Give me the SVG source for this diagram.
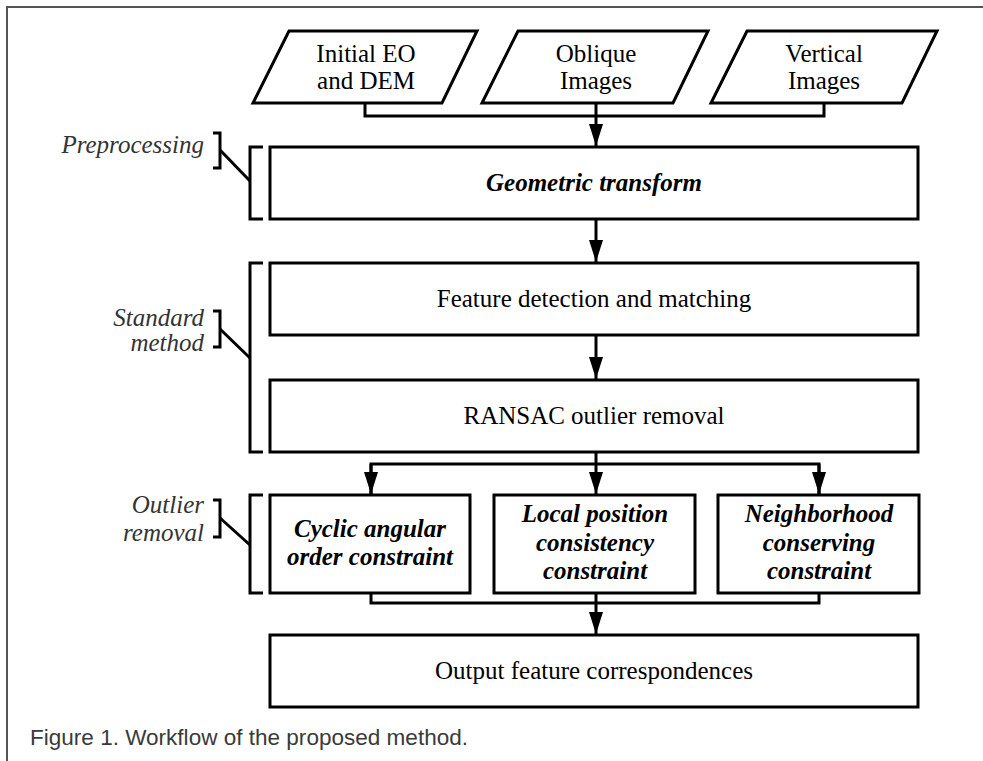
<svg xmlns="http://www.w3.org/2000/svg" width="983" height="761" viewBox="0 0 983 761">
<defs>
<style>
.frame{fill:none;stroke:#555;stroke-width:2}
.box{fill:#fff;stroke:#000;stroke-width:3}
.ln{fill:none;stroke:#000;stroke-width:3}
.br{fill:none;stroke:#000;stroke-width:3;stroke-linejoin:miter}
.t{font-family:"Liberation Serif","Times New Roman",serif;font-size:25px;fill:#000;text-anchor:middle}
.bi{font-family:"Liberation Serif","Times New Roman",serif;font-size:25px;font-weight:bold;font-style:italic;fill:#000;text-anchor:middle}
.lab{font-family:"Liberation Serif","Times New Roman",serif;font-size:25px;font-style:italic;fill:#333;text-anchor:end}
.cap{font-family:"Liberation Sans",Arial,sans-serif;font-size:21.5px;fill:#3a3a3a}
</style>
<marker id="ah" markerWidth="22" markerHeight="14" refX="22" refY="7" orient="auto" markerUnits="userSpaceOnUse" viewBox="0 0 22 14">
<path d="M0,0 L22,7 L0,14 Z" fill="#000"/>
</marker>
</defs>
<rect width="983" height="761" fill="#fff"/>
<path class="frame" d="M7,761 V7 H983"/>

<g id="connectors">
<path class="ln" d="M365,103 V116 H824 V103"/>
<path class="ln" d="M596,103 V146" marker-end="url(#ah)"/>
<path class="ln" d="M596,219 V262" marker-end="url(#ah)"/>
<path class="ln" d="M596,335 V379" marker-end="url(#ah)"/>
<path class="ln" d="M596,452 V494" marker-end="url(#ah)"/>
<path class="ln" d="M371,494 V464 H819 V494"/>
<path class="ln" d="M371,464 V494" marker-end="url(#ah)"/>
<path class="ln" d="M819,464 V494" marker-end="url(#ah)"/>
<path class="ln" d="M371,593 V603 H819 V593"/>
<path class="ln" d="M596,593 V634" marker-end="url(#ah)"/>
</g>

<g id="input-eo-dem">
<polygon class="box" points="289,31 477,31 442,103 253,103"/>
<text class="t" x="366" y="62">Initial EO</text>
<text class="t" x="366" y="89">and DEM</text>
</g>
<g id="input-oblique">
<polygon class="box" points="518,31 708,31 673,103 482,103"/>
<text class="t" x="596" y="62">Oblique</text>
<text class="t" x="596" y="89">Images</text>
</g>
<g id="input-vertical">
<polygon class="box" points="747,31 937,31 902,103 711,103"/>
<text class="t" x="824" y="62">Vertical</text>
<text class="t" x="824" y="89">Images</text>
</g>

<g id="geometric-transform">
<rect class="box" x="270" y="147" width="648" height="72"/>
<text class="bi" x="594" y="191">Geometric transform</text>
</g>
<g id="feature-detection">
<rect class="box" x="270" y="263" width="648" height="72"/>
<text class="t" x="594" y="307">Feature detection and matching</text>
</g>
<g id="ransac">
<rect class="box" x="270" y="380" width="648" height="72"/>
<text class="t" x="594" y="424">RANSAC outlier removal</text>
</g>
<g id="cyclic">
<rect class="box" x="270" y="495" width="200" height="98"/>
<text class="bi" x="370" y="537">Cyclic angular</text>
<text class="bi" x="370" y="565">order constraint</text>
</g>
<g id="local-position">
<rect class="box" x="494" y="495" width="201" height="98"/>
<text class="bi" x="595" y="522">Local position</text>
<text class="bi" x="595" y="551">consistency</text>
<text class="bi" x="595" y="579">constraint</text>
</g>
<g id="neighborhood">
<rect class="box" x="718" y="495" width="201" height="98"/>
<text class="bi" x="819" y="522">Neighborhood</text>
<text class="bi" x="819" y="551">conserving</text>
<text class="bi" x="819" y="579">constraint</text>
</g>
<g id="output">
<rect class="box" x="270" y="635" width="648" height="72"/>
<text class="t" x="594" y="679">Output feature correspondences</text>
</g>

<g id="label-preprocessing">
<text class="lab" x="204" y="153">Preprocessing</text>
<path class="br" d="M213,133 H220 V168 H213"/>
<path class="ln" d="M220,150 L250,181"/>
<path class="br" d="M263,147 H250 V219 H263"/>
</g>
<g id="label-standard">
<text class="lab" x="204" y="326">Standard</text>
<text class="lab" x="204" y="351">method</text>
<path class="br" d="M213,311 H220 V347 H213"/>
<path class="ln" d="M220,329 L250,358"/>
<path class="br" d="M263,263 H250 V452 H263"/>
</g>
<g id="label-outlier">
<text class="lab" x="204" y="513">Outlier</text>
<text class="lab" x="204" y="541">removal</text>
<path class="br" d="M213,500 H220 V537 H213"/>
<path class="ln" d="M220,518 L250,545"/>
<path class="br" d="M263,495 H250 V593 H263"/>
</g>

<text class="cap" x="30" y="745" textLength="438" lengthAdjust="spacingAndGlyphs">Figure 1. Workflow of the proposed method.</text>
</svg>
